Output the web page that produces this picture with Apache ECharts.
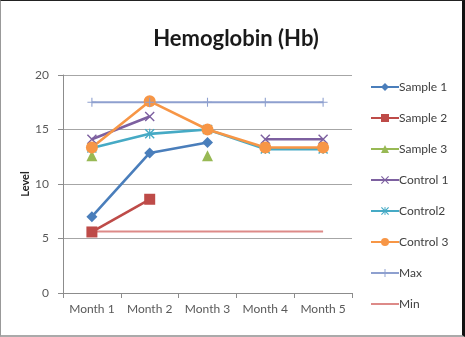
<!DOCTYPE html>
<html>
<head>
<meta charset="utf-8">
<script src="https://cdn.jsdelivr.net/npm/echarts@6/dist/echarts.min.js"></script>
<style>
  html, body { margin: 0; padding: 0; background: #fff; }
  #frame { position: absolute; left: 0; top: 0; width: 465px; height: 337px; box-sizing: border-box;
           border-top: 1px solid #222; border-right: 3px solid #111; border-left: 1px solid #999; border-bottom: 2px solid #aaa; }
  #chart { position: absolute; left: 0; top: 0; width: 465px; height: 337px; }
</style>
</head>
<body>
<div id="chart"></div>
<div id="frame"></div>
<script>
// Haemoglobin readings per month
const months = ['Month 1', 'Month 2', 'Month 3', 'Month 4', 'Month 5'];
const sample1  = [7.0, 12.85, 13.8, null, null];
const sample2  = [5.6, 8.6, null, null, null];
const sample3  = [12.6, null, 12.6, null, null];
const control1 = [14.1, 16.2, null, 14.1, 14.1];
const control2 = [13.3, 14.6, 15.0, 13.2, 13.2];
const control3 = [13.35, 17.6, 15.0, 13.35, 13.35];
const maxLevel = [17.5, 17.5, 17.5, 17.5, 17.5];
const minLevel = [5.65, 5.65, 5.65, 5.65, 5.65];
const yTicks = [0, 5, 10, 15, 20];

const FONT = 'Lato';
const xMark = 'path://M1,0L5,4L9,0L10,1L6,5L10,9L9,10L5,6L1,10L0,9L4,5L0,1Z';
const starMark = 'path://M1,0L5,4L9,0L10,1L6,5L10,9L9,10L5,6L1,10L0,9L4,5L0,1Z M4.4,0h1.2v10h-1.2z';
const plusMark = 'path://M4.4,0h1.2v10h-1.2z M0,4.4h10v1.2h-10z';
const bareLine = 'path://M0,0h28v2h-28z';

function line(name, data, color, symbol, size, width) {
  return {
    name, type: 'line', data, symbol, symbolSize: size,
    connectNulls: false, showAllSymbol: true,
    lineStyle: { color, width: width || 2.6 },
    itemStyle: { color, borderWidth: 0 },
    emphasis: { disabled: true },
    animation: false
  };
}

const chart = echarts.init(document.getElementById('chart'));
chart.setOption({
  title: {
    text: 'Hemoglobin (Hb)', left: 231, top: 23, textAlign: 'center',
    textStyle: { fontFamily: FONT, fontSize: 22, fontWeight: 'bold', color: '#1a1a1a' }
  },
  legend: {
    orient: 'vertical', left: 365, top: 76, itemGap: 19, itemWidth: 28, itemHeight: 10,
    textStyle: { fontFamily: FONT, fontSize: 12, color: '#404040', padding: [0, 0, 0, -5] },
    data: ['Sample 1', 'Sample 2', 'Sample 3', 'Control 1', 'Control2', 'Control 3', 'Max',
           { name: 'Min', icon: bareLine }]
  },
  grid: { left: 63, right: 113, top: 75, bottom: 44 },
  xAxis: {
    type: 'category', data: months, boundaryGap: true,
    axisLine: { lineStyle: { color: '#8c8c8c', width: 1 } },
    axisTick: { show: true, alignWithLabel: false, length: 5, lineStyle: { color: '#8c8c8c' } },
    axisLabel: { fontFamily: FONT, fontSize: 12, color: '#595959', margin: 10, interval: 0 }
  },
  yAxis: {
    type: 'value', min: yTicks[0], max: yTicks[yTicks.length - 1], interval: 5,
    name: 'Level', nameLocation: 'middle', nameGap: 32, nameRotate: 90, nameMoveOverlap: false,
    nameTextStyle: { fontFamily: FONT, fontSize: 11, fontWeight: 'bold', color: '#262626' },
    axisLine: { show: true, lineStyle: { color: '#8c8c8c' } },
    axisTick: { show: true, inside: false, length: 5, lineStyle: { color: '#8c8c8c' } },
    axisLabel: { fontFamily: FONT, fontSize: 12, color: '#595959', margin: 14 },
    splitLine: { lineStyle: { color: '#a6a6a6', width: 1 } }
  },
  series: [
    line('Sample 1', sample1, '#4a7ebb', 'diamond', 11),
    line('Sample 2', sample2, '#be4b48', 'rect', 11),
    line('Sample 3', sample3, '#98b954', 'triangle', 11),
    line('Control 1', control1, '#7d60a0', xMark, 10),
    line('Control2', control2, '#46aac5', starMark, 10),
    line('Control 3', control3, '#f79646', 'circle', 12),
    line('Max', maxLevel, '#8ea0cf', plusMark, 9, 2),
    line('Min', minLevel, '#dd8a88', 'none', 0, 2)
  ]
});
</script>
</body>
</html>
